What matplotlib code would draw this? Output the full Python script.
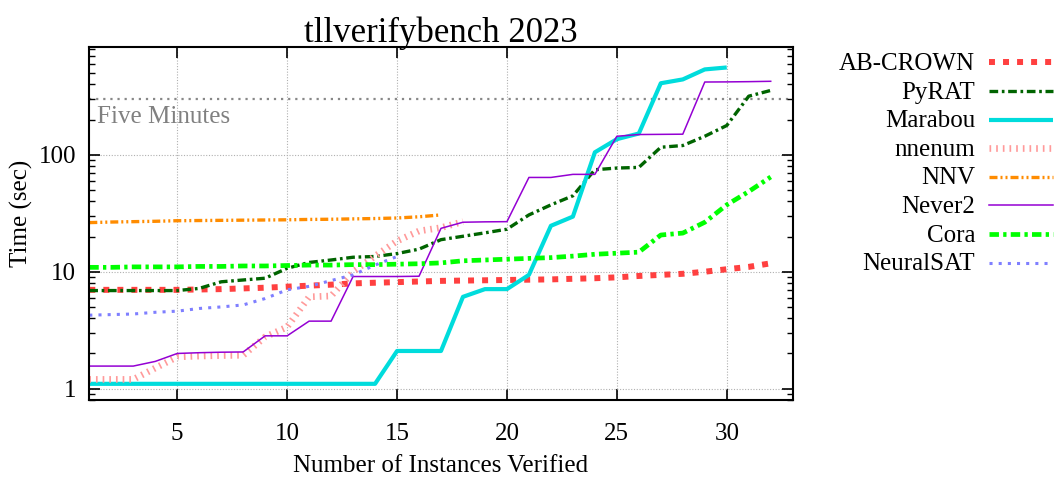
import matplotlib
matplotlib.use("Agg")
import matplotlib.pyplot as plt
from matplotlib.lines import Line2D
from matplotlib.ticker import FixedLocator, LogLocator, NullFormatter, FixedFormatter

plt.rcParams['font.family'] = ['Liberation Serif', 'DejaVu Serif']

title = "tllverifybench 2023"
xlabel = "Number of Instances Verified"
ylabel = "Time (sec)"
timeout_label = "Five Minutes"
timeout_value = 300

ab_crown = [7.0, 7.0, 7.0, 7.0, 7.0, 7.05, 7.1, 7.2, 7.3, 7.45, 7.6, 7.75, 7.95, 8.05, 8.15, 8.25,
            8.35, 8.4, 8.45, 8.5, 8.55, 8.6, 8.7, 8.8, 8.95, 9.2, 9.4, 9.6, 10.0, 10.5, 11.0, 11.8]
pyrat = [6.9, 6.9, 6.9, 6.9, 6.9, 7.2, 8.2, 8.5, 8.8, 10.7, 12.0, 12.6, 13.3, 13.5, 14.3, 15.6,
         18.8, 20.1, 21.5, 23.1, 30.6, 37.3, 44.6, 74.5, 77.0, 78.0, 116, 120, 144, 178, 317, 355]
marabou = [1.1] * 14 + [2.1, 2.1, 2.1, 6.1, 7.1, 7.1, 9.4, 24.7, 29.6, 105, 136, 152, 409, 441, 537, 558]
nnenum = [1.2, 1.2, 1.2, 1.5, 1.87, 1.9, 1.92, 1.93, 2.77, 3.37, 6.1, 6.2, 10.0, 13.6, 18.3, 22.3, 23.8, 26.8]
nnv = [26.3, 26.6, 26.8, 27.0, 27.3, 27.4, 27.5, 27.6, 27.7, 27.8, 28.0, 28.1, 28.3, 28.5, 28.8, 29.5, 30.6]
never2 = [1.56, 1.56, 1.56, 1.71, 2.0, 2.03, 2.05, 2.06, 2.83, 2.83, 3.78, 3.78, 9.1, 9.1, 9.1, 9.15,
          23.5, 26.5, 26.7, 26.8, 64, 64, 68, 68, 144, 149, 149.5, 150, 419, 420, 422, 425]
cora = [10.9, 10.9, 11.0, 11.0, 11.0, 11.1, 11.1, 11.2, 11.2, 11.3, 11.4, 11.4, 11.5, 11.5, 11.6, 11.7,
        11.9, 12.4, 12.6, 12.8, 13.0, 13.2, 13.6, 14.1, 14.4, 14.7, 20.6, 21.4, 26.5, 37.3, 48.5, 64.6]
neuralsat = [4.25, 4.3, 4.35, 4.5, 4.6, 4.85, 5.0, 5.2, 5.9, 7.0, 7.5, 8.4, 9.4, 11.4, 13.5]

series_names = ["AB-CROWN", "PyRAT", "Marabou", "nnenum", "NNV", "Never2", "Cora", "NeuralSAT"]
series_values = [ab_crown, pyrat, marabou, nnenum, nnv, never2, cora, neuralsat]

styles = {
    "AB-CROWN": dict(color="#ff4040", lw=4.3, dashes=(1.0, 1.35), dash_capstyle="butt"),
    "PyRAT": dict(color="#006400", lw=2.4, dashes=(2.6, 1.1, 0.8, 1.1), dash_capstyle="butt"),
    "Marabou": dict(color="#00dcdc", lw=3.0, solid_capstyle="butt"),
    "nnenum": dict(color="#ff9a9a", lw=4.8, dashes=(0.25, 0.75), dash_capstyle="butt"),
    "NNV": dict(color="#ff8c00", lw=2.4, dashes=(2.4, 0.9, 0.6, 0.9, 0.6, 0.9), dash_capstyle="butt"),
    "Never2": dict(color="#9400d3", lw=1.1),
    "Cora": dict(color="#00ff00", lw=3.4, dashes=(2.0, 0.9, 0.7, 0.9), dash_capstyle="butt"),
    "NeuralSAT": dict(color="#7f7fff", lw=2.2, dashes=(1.0, 2.0), dash_capstyle="butt"),
}

W, H = 1058, 479
fig = plt.figure(figsize=(W / 100, H / 100), dpi=100)
ax = fig.add_axes([89.3 / W, 1 - 400 / H, (792.7 - 89.3) / W, (400 - 47.3) / H])

for name, vals in zip(series_names, series_values):
    xs = list(range(1, len(vals) + 1))
    ax.plot(xs, vals, **styles[name])

ax.axhline(timeout_value, color="#888888", lw=1.6, dashes=(1, 2.2), zorder=1)
ax.text(1.35, 188, timeout_label, color="#808080", fontsize=18, va="baseline", ha="left")

ax.set_yscale("log")
ax.set_xlim(1, 33)
ax.set_ylim(0.8, 830)

ax.xaxis.set_major_locator(FixedLocator([5, 10, 15, 20, 25, 30]))
ax.yaxis.set_major_locator(FixedLocator([1, 10, 100]))
ax.yaxis.set_major_formatter(FixedFormatter(["1", "10", "100"]))
ax.yaxis.set_minor_locator(LogLocator(base=10, subs=range(2, 10)))
ax.yaxis.set_minor_formatter(NullFormatter())

ax.tick_params(axis="both", which="major", direction="in", length=8, width=1.2,
               top=True, right=True, labelsize=18)
ax.tick_params(axis="x", which="major", pad=16.5)
ax.tick_params(axis="y", which="major", pad=9.5)
ax.tick_params(axis="y", which="minor", direction="in", length=4.5, width=1.0, right=True, left=True)
ax.tick_params(axis="x", which="minor", bottom=False, top=False)

for sp in ax.spines.values():
    sp.set_linewidth(1.5)

ax.grid(True, which="major", color="#b0b0b0", lw=0.8, dashes=(1, 1.5))

ax.set_title(title, fontsize=25, pad=4)
ax.set_xlabel(xlabel, fontsize=18, labelpad=7)
ax.set_ylabel(ylabel, fontsize=18)
ax.yaxis.set_label_coords((33 - 89.3) / 703.4, 0.53)

# legend (right-aligned labels, samples on the right)
row0, step = 62.3, 28.6
for i, name in enumerate(series_names):
    yp = row0 + i * step
    fig.text(975 / W, 1 - (yp + 1.7) / H, name, fontsize=18, ha="right", va="center")
    fig.add_artist(Line2D([989 / W, 1053 / W], [1 - yp / H, 1 - yp / H],
                          transform=fig.transFigure, **styles[name]))

fig.savefig("out.png", dpi=100)
